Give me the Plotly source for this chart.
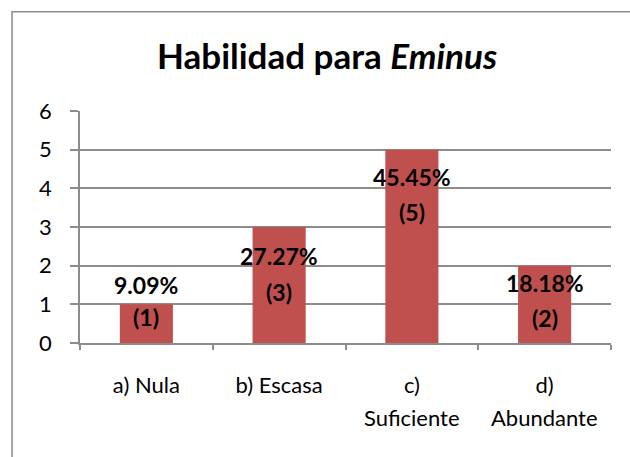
import plotly.graph_objects as go

# ---- data ----
categories = ["a) Nula", "b) Escasa", "c) Suficiente", "d) Abundante"]
cat_line1 = ["a) Nula", "b) Escasa", "c)", "d)"]
cat_line2 = ["", "", "Suficiente", "Abundante"]
counts = [1, 3, 5, 2]
y_ticks = [0, 1, 2, 3, 4, 5, 6]
title_main = "Habilidad para "
title_italic = "Eminus"

total = sum(counts)
pct_text = [f"{c / total * 100:.2f}%" for c in counts]
cnt_text = [f"({c})" for c in counts]

# ---- style / label placement ----
FONT = "Lato"
BAR_COLOR = "#C0504D"
GRID = "#8C8C8C"
pct_label_y = [1.50, 2.25, 4.29, 1.55]
cnt_label_y = [0.67, 1.32, 3.39, 0.65]

fig = go.Figure()
fig.add_trace(go.Bar(
    x=categories, y=counts, width=0.4,
    marker=dict(color=BAR_COLOR, line=dict(width=0)),
    hoverinfo="skip",
))

annotations = []
for cat, p, c, yp, yc in zip(categories, pct_text, cnt_text, pct_label_y, cnt_label_y):
    annotations.append(dict(x=cat, y=yp, xref="x", yref="y", text=f"<b>{p}</b>",
                            showarrow=False, font=dict(family=FONT, size=23, color="black"),
                            xanchor="center", yanchor="middle"))
    annotations.append(dict(x=cat, y=yc, xref="x", yref="y", text=f"<b>{c}</b>",
                            showarrow=False, font=dict(family=FONT, size=23, color="black"),
                            xanchor="center", yanchor="middle"))
for cat, l2 in zip(categories, cat_line2):
    if l2:
        annotations.append(dict(x=cat, y=-0.323, xref="x", yref="paper", text=l2,
                                showarrow=False, font=dict(family=FONT, size=22, color="black"),
                                xanchor="center", yanchor="middle"))
annotations.append(dict(x=0.465, y=1.241, xref="paper", yref="paper",
                        text=f"<b>{title_main}<i>{title_italic}</i></b>",
                        showarrow=False, font=dict(family=FONT, size=35, color="black"),
                        xanchor="center", yanchor="middle"))

fig.update_layout(
    width=630, height=457,
    margin=dict(l=80, r=19, t=111, b=114),
    paper_bgcolor="white", plot_bgcolor="white",
    showlegend=False,
    annotations=annotations,
    shapes=[dict(type="rect", xref="paper", yref="paper",
                 x0=-0.128, x1=1.2, y0=-0.6, y1=1.428,
                 line=dict(color="#8C8C8C", width=1.5), fillcolor="rgba(0,0,0,0)", layer="below")],
)
fig.update_xaxes(
    type="category", tickmode="array", tickvals=categories, ticktext=cat_line1,
    showgrid=False, showline=True, linecolor=GRID, linewidth=1.5,
    ticks="outside", tickson="boundaries", ticklen=5, tickcolor=GRID, tickwidth=1.5,
    tickfont=dict(family=FONT, size=22, color="black"), ticklabelstandoff=22,
    range=[-0.5, 3.5], fixedrange=True, automargin=False,
)
fig.update_yaxes(
    range=[0, 6], tickmode="array", tickvals=y_ticks,
    showgrid=True, gridcolor=GRID, gridwidth=1.5,
    showline=True, linecolor=GRID, linewidth=1.5,
    ticks="outside", ticklen=8, tickcolor=GRID, tickwidth=1.5,
    tickfont=dict(family=FONT, size=22, color="black"), ticklabelstandoff=14,
    zeroline=False, fixedrange=True, automargin=False,
)

fig.write_html("out.html", config={"displayModeBar": False},
               post_script="document.body.style.margin='0';document.body.style.overflow='hidden';")
